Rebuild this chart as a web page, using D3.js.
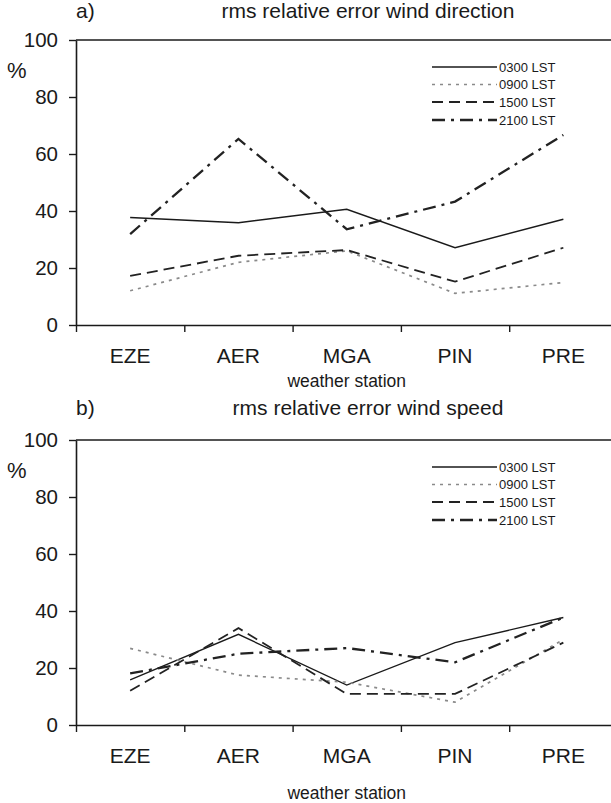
<!DOCTYPE html>
<html>
<head>
<meta charset="utf-8">
<script src="https://cdn.jsdelivr.net/npm/d3@7/dist/d3.min.js"></script>
<style>
  html, body { margin: 0; padding: 0; background: #fff; }
  svg { display: block; }
  text { font-family: "Liberation Sans", Arial, sans-serif; fill: #1a1a1a; }
</style>
</head>
<body>
<svg id="chart" width="611" height="803"></svg>
<script>
// ---- data ----
const stations = ["EZE", "AER", "MGA", "PIN", "PRE"];
const seriesNames = ["0300 LST", "0900 LST", "1500 LST", "2100 LST"];
const yTicks = [0, 20, 40, 60, 80, 100];

// a) rms relative error wind direction (%)
const dir0300 = [37.7, 35.9, 40.6, 27.1, 37.1];
const dir0900 = [12.0, 22.0, 26.0, 11.1, 14.9];
const dir1500 = [17.2, 24.3, 26.3, 15.2, 27.1];
const dir2100 = [31.9, 65.3, 33.6, 43.3, 66.7];

// b) rms relative error wind speed (%)
const spd0300 = [15.8, 31.8, 14.0, 28.9, 37.7];
const spd0900 = [26.9, 17.5, 15.0, 8.0, 30.0];
const spd1500 = [12.0, 34.0, 10.9, 10.9, 28.9];
const spd2100 = [18.1, 25.0, 27.0, 22.0, 37.7];

const panels = [
  { tag: "a)", title: "rms relative error wind direction", series: [dir0300, dir0900, dir1500, dir2100] },
  { tag: "b)", title: "rms relative error wind speed", series: [spd0300, spd0900, spd1500, spd2100] }
];

// ---- styles ----
const styles = [
  { stroke: "#1a1a1a", width: 1.4, dash: null },
  { stroke: "#8a8a8a", width: 1.7, dash: "3,5" },
  { stroke: "#222", width: 1.8, dash: "11,6" },
  { stroke: "#222", width: 2.3, dash: "13,6,3,6" }
];

const svg = d3.select("#chart");
const left = 76, right = 617.5;
const panelTops = [40, 440];
const titleOff = [22, 25];
const wsOff = [62, 74];
const plotH = 285;

const xPt = d3.scalePoint().domain(stations).range([left, right]).padding(0.5);

panels.forEach((p, pi) => {
  const top = panelTops[pi];
  const g = svg.append("g");
  const y = d3.scaleLinear().domain([0, 100]).range([top + plotH, top]);

  // top frame line
  g.append("line")
    .attr("x1", left).attr("x2", 611)
    .attr("y1", y(100)).attr("y2", y(100))
    .attr("stroke", "#1a1a1a").attr("stroke-width", 1.6);

  // y axis
  const ya = g.append("g")
    .attr("transform", `translate(${left},0)`)
    .call(d3.axisLeft(y).tickValues(yTicks).tickSize(7).tickPadding(11).tickSizeOuter(0));
  ya.select(".domain").attr("stroke", "#1a1a1a").attr("stroke-width", 1.6);
  ya.selectAll(".tick line").attr("stroke", "#1a1a1a").attr("stroke-width", 1.4);
  ya.selectAll(".tick text")
    .attr("font-size", 20.5).attr("fill", "#1a1a1a")
    .style("font-family", "'Liberation Sans', Arial, sans-serif");

  // x axis: ticks at category boundaries
  const xa = g.append("g")
    .attr("transform", `translate(0,${y(0)})`)
    .call(d3.axisBottom(d3.scaleLinear().domain([0, stations.length]).range([left, right]))
      .tickValues(d3.range(stations.length)).tickFormat("").tickSize(7).tickSizeOuter(0));
  xa.select(".domain").attr("stroke", "#1a1a1a").attr("stroke-width", 1.6);
  xa.selectAll(".tick line").attr("stroke", "#1a1a1a").attr("stroke-width", 1.4);

  // category labels
  g.selectAll(".cat").data(stations).enter().append("text")
    .attr("x", d => xPt(d))
    .attr("y", y(0) + 38)
    .attr("text-anchor", "middle")
    .attr("font-size", 21)
    .text(d => d);

  // x axis title
  g.append("text")
    .attr("x", xPt("MGA"))
    .attr("y", y(0) + wsOff[pi])
    .attr("text-anchor", "middle")
    .attr("font-size", 17.5)
    .text("weather station");

  // % label
  g.append("text")
    .attr("x", 7).attr("y", top + 38)
    .attr("font-size", 22)
    .text("%");

  // panel tag and title
  g.append("text")
    .attr("x", left).attr("y", top - titleOff[pi])
    .attr("font-size", 21)
    .text(p.tag);
  g.append("text")
    .attr("x", 368).attr("y", top - titleOff[pi])
    .attr("text-anchor", "middle")
    .attr("font-size", 21)
    .text(p.title);

  // lines
  const line = d3.line().x((d, i) => xPt(stations[i])).y(d => y(d));
  p.series.forEach((vals, si) => {
    const s = styles[si];
    g.append("path")
      .datum(vals)
      .attr("d", line)
      .attr("fill", "none")
      .attr("stroke", s.stroke)
      .attr("stroke-width", s.width)
      .attr("stroke-dasharray", s.dash);
  });

  // legend
  const lg = g.append("g");
  const rowOff = [27, 44.5, 62, 80];
  seriesNames.forEach((name, si) => {
    const s = styles[si];
    const ly = top + rowOff[si];
    lg.append("line")
      .attr("x1", 432).attr("x2", 497)
      .attr("y1", ly).attr("y2", ly)
      .attr("stroke", s.stroke)
      .attr("stroke-width", s.width)
      .attr("stroke-dasharray", s.dash);
    lg.append("text")
      .attr("x", 499).attr("y", ly + 4.5)
      .attr("font-size", 13)
      .text(name);
  });
});
</script>
</body>
</html>
